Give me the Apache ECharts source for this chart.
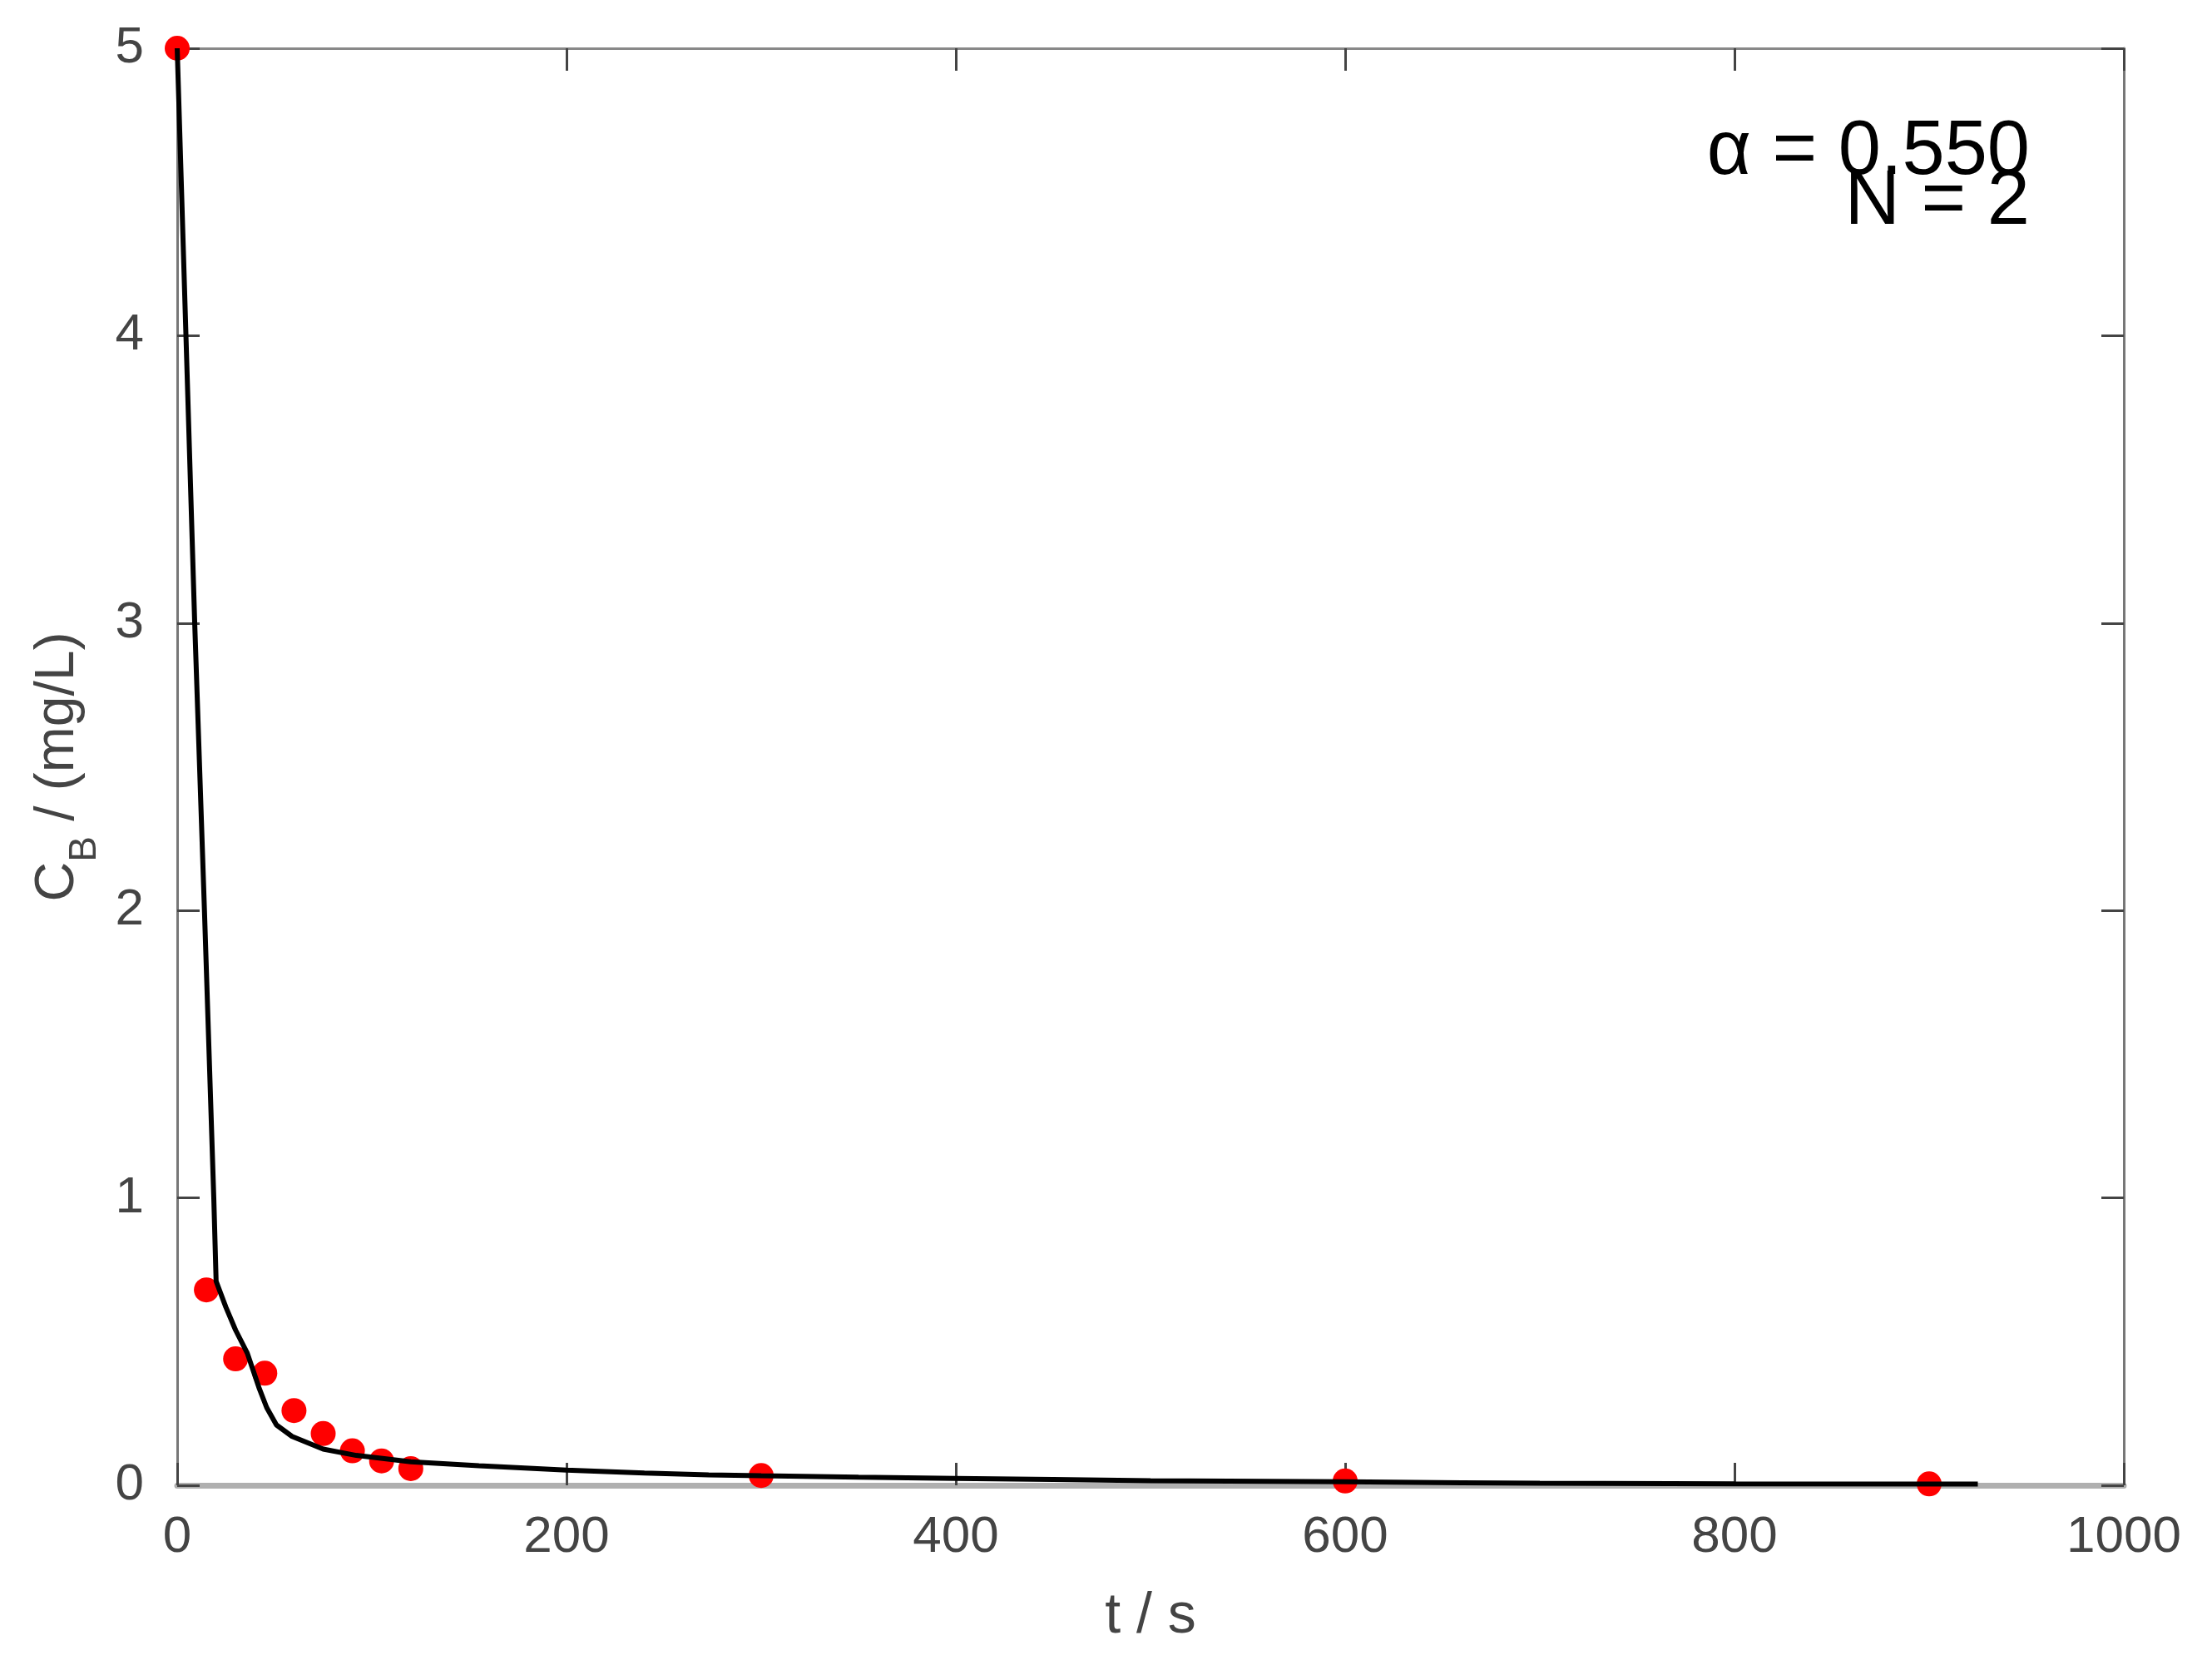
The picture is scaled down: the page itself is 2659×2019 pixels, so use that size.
<!DOCTYPE html>
<html>
<head>
<meta charset="utf-8">
<script src="https://cdn.jsdelivr.net/npm/echarts@6/dist/echarts.min.js"></script>
<style>
html,body{margin:0;padding:0;background:#fff;}
#chart{width:2659px;height:2019px;}
</style>
</head>
<body>
<div id="chart"></div>
<script>
// Measured data (red dots)
var measT = [0, 15, 30, 45, 60, 75, 90, 105, 120, 300, 600, 900];
var measC = [5.0, 0.68, 0.44, 0.39, 0.26, 0.18, 0.12, 0.085, 0.058, 0.034, 0.015, 0.005];
// Model curve (black line)
var curveT = [0, 4.5, 9, 14, 18.8, 20, 25, 30, 36, 42, 46, 51, 59, 75, 92, 120, 155, 200, 240, 273, 300, 350, 400, 450, 500, 600, 660, 700, 800, 925];
var curveC = [5, 4, 3, 2, 1, 0.71, 0.62, 0.54, 0.46, 0.34, 0.27, 0.21, 0.17, 0.126, 0.104, 0.082, 0.068, 0.053, 0.043, 0.036, 0.033, 0.028, 0.024, 0.02, 0.016, 0.012, 0.009, 0.007, 0.005, 0.004];
// Axis ticks
var xTicks = [0, 200, 400, 600, 800, 1000];
var yTicks = [0, 1, 2, 3, 4, 5];
var annotAlpha = 'α = 0.550';
var annotN = 'N = 2';

var FONT = '"Liberation Sans", Arial, Helvetica, sans-serif';
var chart = echarts.init(document.getElementById('chart'));

function pairs(a, b) { return a.map(function (v, i) { return [v, b[i]]; }); }

var tickStyle = { show: true, inside: true, length: 27, lineStyle: { color: '#444', width: 3 } };

chart.setOption({
  animation: false,
  backgroundColor: '#fff',
  grid: { left: 213, top: 58, right: 106, bottom: 234, containLabel: false },
  xAxis: [{
    type: 'value', min: xTicks[0], max: xTicks[xTicks.length - 1], interval: 200,
    position: 'bottom',
    name: 't / s', nameLocation: 'middle', nameGap: 124,
    nameTextStyle: { fontFamily: FONT, fontSize: 68, color: '#444' },
    axisLine: { show: true, onZero: false, lineStyle: { color: '#b0b0b0', width: 7 } },
    axisTick: tickStyle,
    axisLabel: { fontFamily: FONT, fontSize: 62, color: '#444', margin: 32,
      formatter: function (v) { return String(v); } },
    splitLine: { show: false }
  }, {
    type: 'value', min: xTicks[0], max: xTicks[xTicks.length - 1], interval: 200,
    position: 'top',
    axisLine: { show: true, onZero: false, lineStyle: { color: '#888', width: 3 } },
    axisTick: tickStyle,
    axisLabel: { show: false },
    splitLine: { show: false }
  }],
  yAxis: [{
    type: 'value', min: yTicks[0], max: yTicks[yTicks.length - 1], interval: 1,
    position: 'left',
    name: '{m|C}{s|B}{m| / (mg/L)}', nameLocation: 'middle', nameGap: 110,
    nameTextStyle: {
      fontFamily: FONT, fontSize: 66, color: '#444',
      rich: {
        m: { fontFamily: FONT, fontSize: 66, color: '#444' },
        s: { fontFamily: FONT, fontSize: 46, color: '#444', verticalAlign: 'bottom', padding: [0, 0, -22, 0] }
      }
    },
    axisLine: { show: true, onZero: false, lineStyle: { color: '#777', width: 3 } },
    axisTick: tickStyle,
    axisLabel: { fontFamily: FONT, fontSize: 62, color: '#444', margin: 40 },
    splitLine: { show: false }
  }, {
    type: 'value', min: yTicks[0], max: yTicks[yTicks.length - 1], interval: 1,
    position: 'right',
    axisLine: { show: true, onZero: false, lineStyle: { color: '#777', width: 3 } },
    axisTick: tickStyle,
    axisLabel: { show: false },
    splitLine: { show: false }
  }],
  graphic: [
    { type: 'text', right: 2659 - 2440, top: 138,
      style: { text: annotAlpha, fontFamily: FONT, fontSize: 92, fill: '#000', textAlign: 'right' }, z: 100 },
    { type: 'text', right: 2659 - 2440, top: 198,
      style: { text: annotN, fontFamily: FONT, fontSize: 92, fill: '#000', textAlign: 'right' }, z: 100 }
  ],
  series: [{
    type: 'scatter',
    data: pairs(measT, measC),
    symbol: 'circle', symbolSize: 30,
    itemStyle: { color: '#ff0000', opacity: 1 },
    z: 2
  }, {
    type: 'line',
    data: pairs(curveT, curveC),
    showSymbol: false, symbol: 'none',
    lineStyle: { color: '#000', width: 6 },
    z: 3
  }]
});
</script>
</body>
</html>
